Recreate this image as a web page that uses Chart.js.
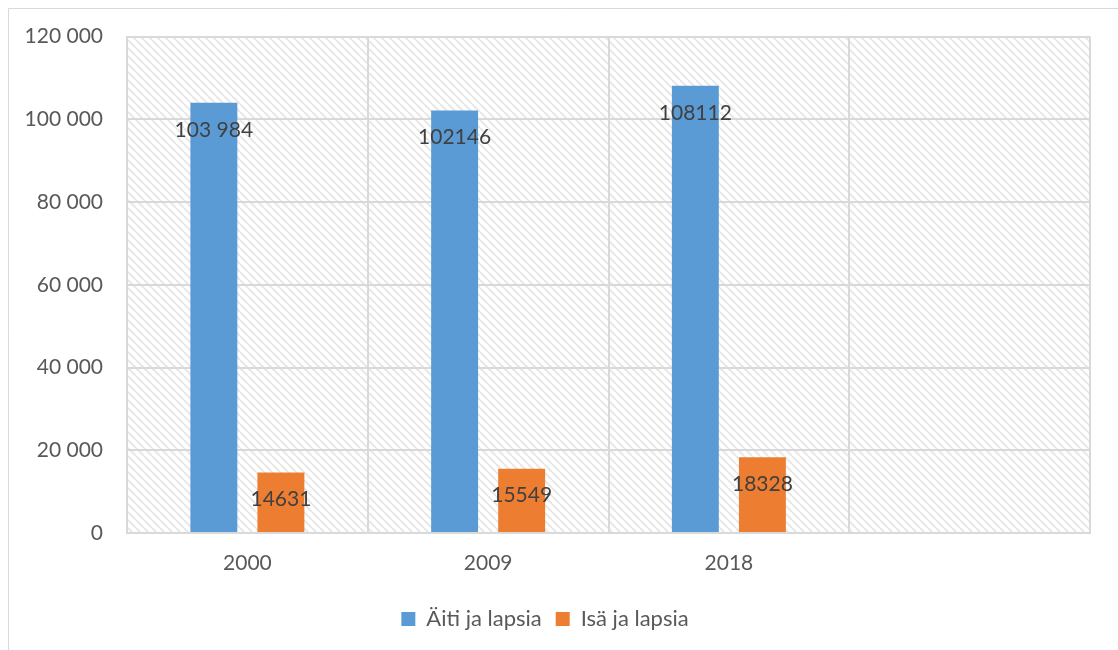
<!DOCTYPE html>
<html>
<head>
<meta charset="utf-8">
<script src="https://cdn.jsdelivr.net/npm/chart.js@4/dist/chart.umd.min.js"></script>
<style>
  html, body { margin: 0; padding: 0; background: #fff; }
  #wrap { width: 1118px; height: 650px; position: relative; }
</style>
</head>
<body>
<div id="wrap"><canvas id="chart" width="1118" height="650"></canvas></div>
<script>
const years = ["2000", "2009", "2018", ""];
const mothers = [103984, 102146, 108112, null];
const fathers = [14631, 15549, 18328, null];
const motherLabels = ["103 984", "102146", "108112", ""];
const fatherLabels = ["14631", "15549", "18328", ""];

const fontFamily = "Lato, 'Open Sans', sans-serif";

function makeHatch() {
  const c = document.createElement("canvas");
  c.width = 8;
  c.height = 8;
  const g = c.getContext("2d");
  g.strokeStyle = "#e8e8e8";
  g.lineWidth = 2;
  for (const off of [-8, 0, 8]) {
    g.beginPath();
    g.moveTo(off, 0);
    g.lineTo(off + 8, 8);
    g.stroke();
  }
  return c;
}

const backgroundPlugin = {
  id: "bg",
  beforeDraw(chart) {
    const ctx = chart.ctx;
    const a = chart.chartArea;
    ctx.save();
    ctx.fillStyle = "#ffffff";
    ctx.fillRect(0, 0, chart.width, chart.height);
    // outer frame (left and top)
    ctx.strokeStyle = "#d9d9d9";
    ctx.lineWidth = 1;
    ctx.beginPath();
    ctx.moveTo(8.5, chart.height);
    ctx.lineTo(8.5, 8.5);
    ctx.lineTo(chart.width, 8.5);
    ctx.stroke();
    // hatched plot area
    ctx.fillStyle = ctx.createPattern(makeHatch(), "repeat");
    ctx.fillRect(a.left, a.top, a.right - a.left, a.bottom - a.top);
    ctx.restore();
  }
};

const valueLabelPlugin = {
  id: "valueLabels",
  afterDatasetsDraw(chart) {
    const ctx = chart.ctx;
    const texts = [motherLabels, fatherLabels];
    ctx.save();
    ctx.font = "21px " + fontFamily;
    ctx.fillStyle = "#404040";
    ctx.textAlign = "center";
    ctx.textBaseline = "middle";
    chart.data.datasets.forEach((ds, i) => {
      chart.getDatasetMeta(i).data.forEach((bar, j) => {
        if (ds.data[j] == null) return;
        ctx.fillText(texts[i][j], bar.x, bar.y + 27);
      });
    });
    ctx.restore();
  }
};

new Chart(document.getElementById("chart").getContext("2d"), {
  type: "bar",
  data: {
    labels: years,
    datasets: [
      {
        label: "Äiti ja lapsia",
        data: mothers,
        backgroundColor: "#5b9bd5",
        categoryPercentage: 0.557,
        barPercentage: 0.7,
      },
      {
        label: "Isä ja lapsia",
        data: fathers,
        backgroundColor: "#ed7d31",
        categoryPercentage: 0.557,
        barPercentage: 0.7,
      },
    ],
  },
  options: {
    responsive: false,
    animation: false,
    layout: { padding: { top: 36, right: 28, bottom: 10, left: 0 } },
    plugins: {
      tooltip: { enabled: false },
      legend: {
        position: "bottom",
        labels: {
          font: { family: fontFamily, size: 22 },
          color: "#595959",
          boxWidth: 14,
          boxHeight: 14,
          padding: 14,
        },
      },
    },
    scales: {
      x: {
        grid: { color: "#d9d9d9", lineWidth: 2, drawTicks: false, offset: true },
        border: { color: "#d9d9d9", width: 2 },
        ticks: {
          font: { family: fontFamily, size: 21 },
          color: "#595959",
          padding: 18,
        },
        afterFit(scale) { scale.height = 61; },
      },
      y: {
        min: 0,
        max: 120000,
        grid: { color: "#d9d9d9", lineWidth: 2, drawTicks: false },
        border: { color: "#d9d9d9", width: 2 },
        ticks: {
          stepSize: 20000,
          font: { family: fontFamily, size: 21 },
          color: "#595959",
          padding: 24,
          callback: (v) => String(v).replace(/\B(?=(\d{3})+(?!\d))/g, " "),
        },
        afterFit(scale) { scale.width = 127; },
      },
    },
  },
  plugins: [backgroundPlugin, valueLabelPlugin],
});
</script>
</body>
</html>
